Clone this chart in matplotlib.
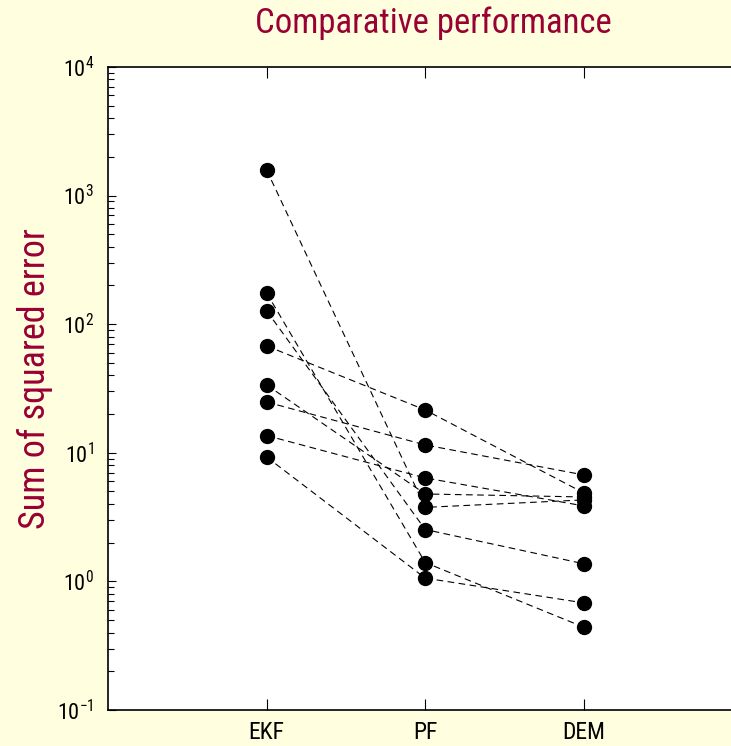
import math
import matplotlib
matplotlib.use("Agg")
import matplotlib.pyplot as plt
from matplotlib import font_manager
from matplotlib.ticker import LogLocator, FixedLocator, NullFormatter, FuncFormatter

# Sum of squared error per trial for each filter
methods = ["EKF", "PF", "DEM"]
ekf = [1580, 175, 127, 67.7, 33.7, 24.8, 13.6, 9.27]
pf = [3.76, 1.40, 2.53, 21.5, 4.78, 11.5, 6.37, 1.06]
dem = [4.30, 0.44, 1.37, 4.87, 4.53, 6.72, 3.86, 0.68]

# prefer a narrow sans face when one is installed
installed = {f.name for f in font_manager.fontManager.ttflist}
narrow = None
for cand in ["Liberation Sans Narrow", "Arial Narrow", "Roboto Condensed",
             "Open Sans Condensed", "DejaVu Sans Condensed"]:
    if cand in installed:
        narrow = cand
        break
base = narrow or "Liberation Sans"
scale = 1.0 if narrow else 0.85

plt.rcParams["font.family"] = [base, "DejaVu Sans"]
plt.rcParams["mathtext.fontset"] = "custom"
plt.rcParams["mathtext.rm"] = base
plt.rcParams["mathtext.it"] = base
plt.rcParams["mathtext.bf"] = base

bg = "#ffffe0"
red = "#990033"

fig = plt.figure(figsize=(7.31, 7.46), dpi=100, facecolor=bg)
ax = fig.add_axes([0.1477, 0.0483, 0.868, 0.862])
ax.set_facecolor("white")

xs = [1, 2, 3]
for e, p, d in zip(ekf, pf, dem):
    ax.plot(xs, [e, p, d], color="black", lw=0.8, ls=(0, (6, 4)), zorder=2)
    ax.plot(xs, [e, p, d], ls="none", marker="o", ms=10,
            mfc="black", mec="black", zorder=3)

ax.set_yscale("log")
ax.set_ylim(0.1, 1e4)
ax.set_xlim(0, 4)

tick_fs = 16 * scale + (0 if narrow else 1.5)
ax.xaxis.set_major_locator(FixedLocator(xs))
ax.set_xticklabels(methods, fontsize=17 * scale + (0 if narrow else 1.5))
ax.yaxis.set_major_locator(LogLocator(base=10, numticks=10))
ax.yaxis.set_minor_locator(LogLocator(base=10, subs=range(2, 10), numticks=20))
ax.yaxis.set_minor_formatter(NullFormatter())
ax.yaxis.set_major_formatter(
    FuncFormatter(lambda v, pos: r"$\mathregular{10^{%d}}$" % round(math.log10(v))))

ax.tick_params(axis="both", which="both", direction="in", top=True, right=True,
               width=0.8)
ax.tick_params(axis="y", which="major", length=6, pad=10, labelsize=tick_fs)
ax.tick_params(axis="y", which="minor", length=4)
ax.tick_params(axis="x", which="major", length=8, pad=8)
for s in ax.spines.values():
    s.set_linewidth(1.2)

ax.set_ylabel("Sum of squared error", fontsize=26 * scale, color=red)
ax.yaxis.set_label_coords(-0.0865, 0.5156)
fig.text(0.593, 0.969, "Comparative performance", ha="center", va="center",
         fontsize=25 * scale, color=red)

fig.savefig("out.png", dpi=100, facecolor=bg)
